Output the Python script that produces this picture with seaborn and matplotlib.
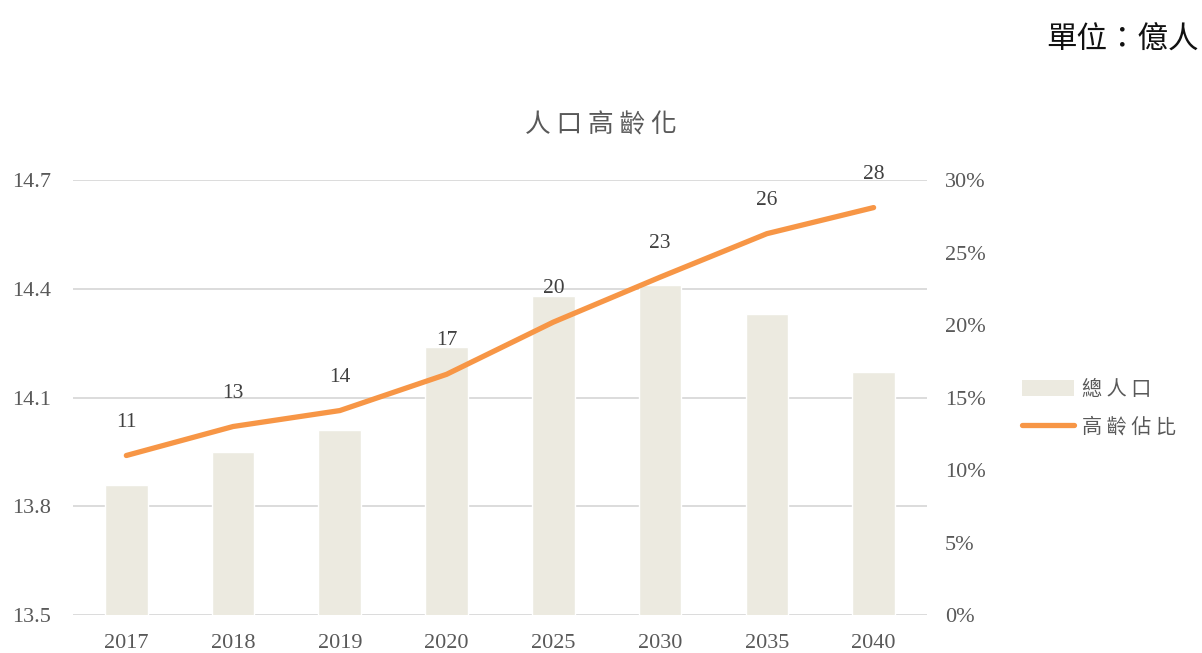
import pandas as pd
import matplotlib.pyplot as plt
import seaborn as sns
from matplotlib.patches import Patch
from matplotlib.lines import Line2D

# data
years = ['2017', '2018', '2019', '2020', '2025', '2030', '2035', '2040']
population = [13.86, 13.95, 14.01, 14.24, 14.38, 14.41, 14.33, 14.17]   # 億人
aged_share = [11.0, 13.0, 14.1, 16.6, 20.2, 23.3, 26.3, 28.1]          # %
share_labels = ['11', '13', '14', '17', '20', '23', '26', '28']

df = pd.DataFrame({'year': years, 'pop': population, 'share': aged_share})

sns.set_theme(style='white')
plt.rcParams['font.family'] = ['Liberation Serif', 'Noto Sans CJK TC', 'DejaVu Sans']

grey = '#595959'
bar_color = '#ECEAE0'
line_color = '#F79646'

fig = plt.figure(figsize=(12.02, 6.53), dpi=100)
ax = fig.add_axes([0.0607, 0.0582, 0.7105, 0.6661])

sns.barplot(data=df, x='year', y='pop', color=bar_color, width=0.4,
            saturation=1, ax=ax, zorder=2)
ax.set_ylim(13.5, 14.7)
ax.set_yticks([13.5, 13.8, 14.1, 14.4, 14.7])
ax.set_yticklabels(['13.5', '13.8', '14.1', '14.4', '14.7'])
ax.set_xlim(-0.5, 7.5)
ax.grid(axis='y', color='#D9D9D9', linewidth=1.3, zorder=0)
ax.set_axisbelow(True)
ax.set_xlabel('')
ax.set_ylabel('')
for s in ax.spines.values():
    s.set_visible(False)
ax.tick_params(axis='x', length=0, labelsize=16, labelcolor=grey, pad=14)
ax.tick_params(axis='y', length=0, labelsize=16, labelcolor=grey, pad=16)

ax2 = ax.twinx()
sns.lineplot(x=list(range(len(years))), y=aged_share, color=line_color,
             linewidth=3.8, ax=ax2, solid_capstyle='round', zorder=3)
ax2.set_ylim(0, 30)
ax2.set_yticks([0, 5, 10, 15, 20, 25, 30])
ax2.set_yticklabels([f'{v}%' for v in range(0, 31, 5)])
ax2.tick_params(axis='y', length=0, labelsize=16, labelcolor=grey, pad=13)
for s in ax2.spines.values():
    s.set_visible(False)
ax2.grid(False)

for i, (v, lab) in enumerate(zip(aged_share, share_labels)):
    ax2.annotate(lab, (i, v), xytext=(0, 24), textcoords='offset points',
                 ha='center', va='center', fontsize=15.5, color='#404040',
                 annotation_clip=False)

fig.text(0.5, 0.808, '人 口 高 齡 化', ha='center', va='center', fontsize=18.5,
         color=grey, family=['Noto Sans CJK TC'])
fig.text(0.997, 0.938, '單位：億人', ha='right', va='center', fontsize=22,
         color='#111111', fontweight='light', family=['Noto Sans CJK TC'])

handles = [Patch(facecolor=bar_color, edgecolor='none'),
           Line2D([0], [0], color=line_color, linewidth=3.8, solid_capstyle='round')]
leg = fig.legend(handles, ['總 人 口', '高 齡 佔 比'], loc='center left',
                 bbox_to_anchor=(0.835, 0.375), frameon=False,
                 handlelength=2.6, handleheight=0.9, labelspacing=0.8,
                 handletextpad=0.4, prop={'family': ['Noto Sans CJK TC'], 'size': 14.5})
for t in leg.get_texts():
    t.set_color(grey)

fig.savefig('out.png', dpi=100)
